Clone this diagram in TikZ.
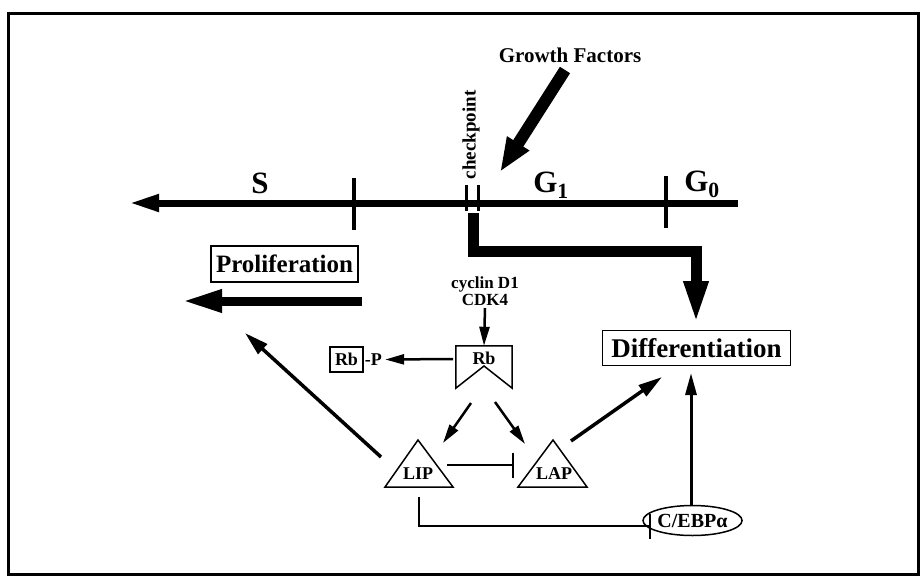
\documentclass[tikz,border=0pt]{standalone}
\usepackage{fontspec}
\setmainfont{Liberation Serif}
\usetikzlibrary{arrows.meta,shapes.geometric}
\newcommand{\myfs}[2]{\fontsize{#1}{#2}\selectfont\bfseries}
\tikzset{
  lbl/.style={inner sep=0pt},
  box/.style={draw, line width=1.8pt, inner sep=0pt},
  thinarr/.style={line width=2.5pt, -{Triangle[length=19pt,width=10pt]}},
  medarr/.style={line width=3.5pt, -{Triangle[length=24pt,width=13pt]}},
  inh/.style={line width=2.5pt, -{Bar[width=25pt]}},
  tickmark/.style={line width=4pt},
  outline/.style={line width=1.5pt, line join=miter},
}
\begin{document}
\begin{tikzpicture}[x=1pt,y=-1pt]
\useasboundingbox (0,0) rectangle (920,576);
\draw[line width=3pt] (8,13) rectangle (918,574);

% cell-cycle line
\coordinate (tlL) at (129,203);
\coordinate (tlR) at (738,203);
\draw[line width=7pt, -{Triangle[length=30pt,width=16pt]}] (tlR) -- (tlL);
\draw[tickmark] (354,178) -- (354,230);
\draw[tickmark] (666,176) -- (666,228);
\draw[line width=3pt] (466,185) -- (466,211);
\draw[line width=3pt] (478,185) -- (478,211);

\node[lbl, font=\myfs{31}{32}] (S) at (260,183) {S};
\node[lbl, font=\myfs{31}{32}] (G1) at (551,185) {G\textsubscript{1}};
\node[lbl, font=\myfs{31}{32}] (G0) at (702,184) {G\textsubscript{0}};
\node[lbl, font=\myfs{19}{20}, rotate=90] (chk) at (471,135) {checkpoint};

% growth factors
\node[lbl, font=\myfs{21}{23}] (gf) at (570,55) {Growth Factors};
\coordinate (gfTail) at (565,70);
\coordinate (gfTip) at (500,172);
\draw[line width=12pt, -{Triangle[length=34pt,width=24pt]}] (gfTail) -- (gfTip);

% boxes
\node[box, font=\myfs{25}{27}, minimum width=147pt, minimum height=36pt] (prolif) at (284.5,264) {Proliferation};
\node[box, font=\myfs{27}{28}, minimum width=188pt, minimum height=35pt] (diff) at (696.5,348) {Differentiation};

% thick path from checkpoint to differentiation
\coordinate (chkOut) at (473,213);
\coordinate (bend) at (696,251);
\coordinate (diffTop) at (696,330);
\draw[line width=11pt, line join=miter, -{Triangle[length=44pt,width=22pt]}, shorten >=5pt]
  (chkOut) |- (bend) -- (diffTop);

% proliferation arrow
\coordinate (prTail) at (362,301);
\coordinate (prTip) at (182,301);
\draw[line width=9pt, -{Triangle[length=40pt,width=21pt]}] (prTail) -- (prTip);

% cyclin D1 / CDK4
\node[lbl, font=\myfs{17}{17}, align=center] (cyc) at (485,291) {cyclin D1\\CDK4};

% Rb
\node[lbl, minimum width=56pt, minimum height=42pt] (rb) at (484,367) {};
\draw[outline] (rb.south west) -- (rb.north west) -- (rb.north east) -- (rb.south east) -- (484,366) -- cycle;
\node[lbl, font=\myfs{18}{18}] (rbl) at (484,358) {Rb};
\coordinate (cycOut) at (485,308);
\draw[thinarr] (cycOut) -- (rb.north);

% Rb-P
\node[draw, line width=1.5pt, inner sep=0pt, minimum width=33pt, minimum height=25pt, font=\myfs{18}{18}] (rbbox) at (346.5,359.5) {Rb};
\node[lbl, font=\myfs{18}{18}, anchor=west, inner sep=1pt] (rbP) at (rbbox.east) {-P};
\coordinate (rbW) at (453,359);
\draw[thinarr] (rbW) -- ([xshift=2pt]rbP.east);

% LIP and LAP triangles
\draw[outline] (385,487) -- (418,440) -- (453,487) -- cycle;
\node[lbl, font=\myfs{18}{18}] (lip) at (418,474) {LIP};
\draw[outline] (518,487) -- (553,440) -- (587,487) -- cycle;
\node[lbl, font=\myfs{18}{18}] (lap) at (554,474) {LAP};

\coordinate (rbBL) at (471,403);
\coordinate (lipTop) at (443,443);
\coordinate (rbBR) at (495,402);
\coordinate (lapTop) at (525,444);
\draw[thinarr] (rbBL) -- (lipTop);
\draw[thinarr] (rbBR) -- (lapTop);

\coordinate (lipR) at (447,465);
\coordinate (lapL) at (514,465);
\draw[inh] (lipR) -- (lapL);

% C/EBPalpha
\node[ellipse, draw, line width=1.5pt, inner sep=0pt, minimum width=76pt, minimum height=30pt, font=\myfs{20}{20}] (cebp) at (692.5,520.5) {C/EBPα};

\coordinate (lipB) at (419,497);
\coordinate (cebpL) at (651,526);
\draw[inh] (lipB) |- (cebpL);

% arrows to outcomes
\coordinate (lipTL) at (381,457);
\coordinate (prolTgt) at (245,333);
\draw[medarr] (lipTL) -- (prolTgt);

\coordinate (lapTR) at (571,441);
\coordinate (diffTgt) at (662,377);
\draw[medarr] (lapTR) -- (diffTgt);

\coordinate (cebpTop) at (691,505);
\coordinate (diffBot) at (691,373);
\draw[line width=3pt, -{Triangle[length=22pt,width=11pt]}] (cebpTop) -- (diffBot);
\end{tikzpicture}
\end{document}
